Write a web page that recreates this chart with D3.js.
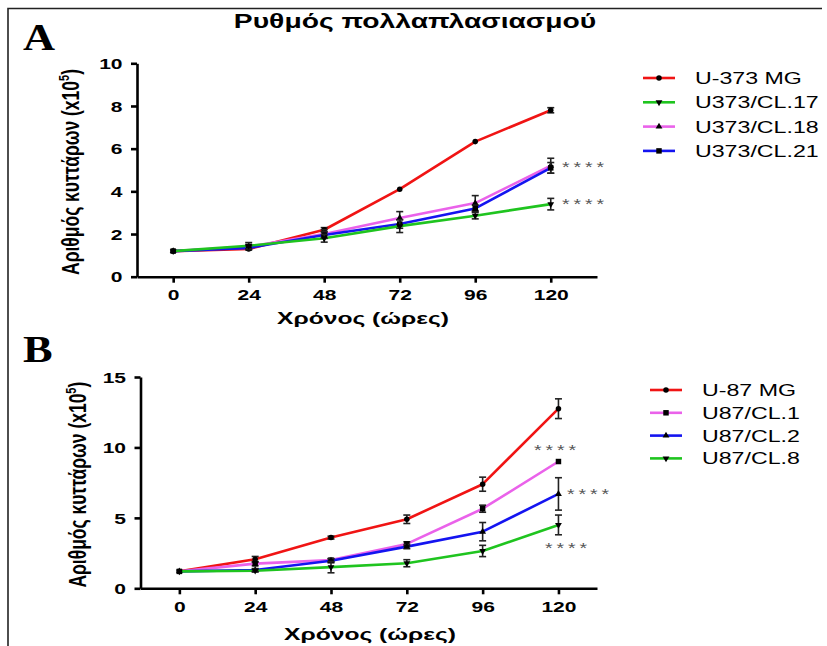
<!DOCTYPE html>
<html>
<head>
<meta charset="utf-8">
<script src="https://cdn.jsdelivr.net/npm/d3@7"></script>
<style>
  html, body { margin: 0; padding: 0; background: #fff; }
  svg { display: block; }
  text { font-family: "Liberation Sans", Arial, sans-serif; }
</style>
</head>
<body>
<svg id="chart" width="827" height="646"></svg>
<script>
// Sampling times (hours)
const hours = [0, 24, 48, 72, 96, 120];

// Panel A — U-373 MG and its clones (cell number x10^5)
const namesA = ["U-373 MG", "U373/CL.17", "U373/CL.18", "U373/CL.21"];
const u373MG   = [1.2, 1.3, 2.2, 4.1, 6.33, 7.8];
const u373MGe  = [0.05, 0.08, 0.1, 0.05, 0.08, 0.12];
const cl17     = [1.2, 1.45, 1.8, 2.37, 2.86, 3.4];
const cl17e    = [0.05, 0.15, 0.18, 0.3, 0.15, 0.27];
const cl18     = [1.2, 1.4, 2.0, 2.75, 3.45, 5.2];
const cl18e    = [0.05, 0.1, 0.2, 0.3, 0.35, 0.35];
const cl21     = [1.2, 1.35, 1.95, 2.47, 3.2, 5.1];
const cl21e    = [0.05, 0.1, 0.15, 0.2, 0.15, 0.25];
const ticksYA  = [0, 2, 4, 6, 8, 10];

// Panel B — U-87 MG and its clones (cell number x10^5)
const namesB = ["U-87 MG", "U87/CL.1", "U87/CL.2", "U87/CL.8"];
const u87MG   = [1.2, 2.06, 3.6, 4.9, 7.39, 12.75];
const u87MGe  = [0.05, 0.2, 0.1, 0.3, 0.5, 0.7];
const cl1     = [1.2, 1.75, 2.0, 3.15, 5.65, 9.0];
const cl1e    = [0.05, 0.15, 0.1, 0.15, 0.25, 0.05];
const cl2     = [1.2, 1.3, 1.96, 2.96, 4.02, 6.7];
const cl2e    = [0.05, 0.1, 0.15, 0.15, 0.65, 1.15];
const cl8     = [1.2, 1.25, 1.5, 1.78, 2.65, 4.5];
const cl8e    = [0.05, 0.1, 0.4, 0.25, 0.4, 0.7];
const ticksYB = [0, 5, 10, 15];

const stars = "****";

const RED = "#f01414", GREEN = "#1fc41f", PINK = "#ea62ea", BLUE = "#1414f0";
const SX = 1.45; // horizontal text stretch

const svg = d3.select("#chart");

// Frame
svg.append("path").attr("d", "M8,646 V8.5 H822")
  .attr("fill", "none").attr("stroke", "#222").attr("stroke-width", 1.6);

function label(x, y, str, opt = {}) {
  const t = svg.append("text")
    .attr("transform", `translate(${x},${y}) ${opt.rot ? "rotate(-90) scale(1," + (opt.sx || SX) + ")" : "scale(" + (opt.sx || SX) + ",1)"}`)
    .attr("text-anchor", opt.anchor || "start")
    .attr("font-size", opt.size || 16)
    .attr("font-weight", opt.weight || "normal")
    .attr("fill", opt.fill || "#000")
    .style("font-family", opt.family || null)
    .style("letter-spacing", opt.ls || null)
    .text(str);
  return t;
}

// Title
label(415, 28, "Ρυθμός πολλαπλασιασμού", { anchor: "middle", size: 19.5, weight: "bold" });

// Panel letters
label(23, 50, "A", { size: 37, weight: "bold", family: "'Liberation Serif', 'Times New Roman', serif", sx: 1.2 });
label(23, 362, "B", { size: 37, weight: "bold", family: "'Liberation Serif', 'Times New Roman', serif", sx: 1.2 });

const symbols = {
  circle: d3.symbolCircle, square: d3.symbolSquare,
  up: d3.symbolTriangle, down: d3.symbolTriangle
};

function marker(g, kind, x, y) {
  const size = kind === "circle" ? 24 : kind === "square" ? 30 : 20;
  g.append("path")
    .attr("d", d3.symbol().type(symbols[kind]).size(size)())
    .attr("transform", `translate(${x},${y})${kind === "down" ? " rotate(180)" : ""}`)
    .attr("fill", "#000");
}

function panel(cfg) {
  const x = d3.scaleLinear().domain(cfg.xDom).range(cfg.xRange);
  const y = d3.scaleLinear().domain(cfg.yDom).range(cfg.yRange);
  const g = svg.append("g");

  // y axis
  const ya = g.append("g").attr("transform", `translate(${cfg.xRange[0]},0)`)
    .call(d3.axisLeft(y).tickValues(cfg.yTicks).tickSize(6).tickSizeOuter(0).tickPadding(4));
  // x axis
  const xa = g.append("g").attr("transform", `translate(0,${cfg.yRange[0]})`)
    .call(d3.axisBottom(x).tickValues(hours).tickSize(6).tickSizeOuter(0).tickPadding(7));
  [ya, xa].forEach(a => {
    a.selectAll("path,line").attr("stroke", "#000").attr("stroke-width", 2.6);
    a.selectAll("text").attr("font-size", 14.5).attr("font-weight", "bold")
      .attr("fill", "#000").style("font-family", "'Liberation Sans', Arial, sans-serif");
  });
  ya.selectAll("text").attr("transform", `scale(${SX},1)`).attr("dy", "0.36em");
  xa.selectAll("text").attr("transform", `scale(${SX},1)`);

  // axis titles
  const yt = label(cfg.yTitleX, (cfg.yRange[0] + cfg.yRange[1]) / 2 + 2, "", { rot: true, anchor: "middle", size: 17.5, weight: "bold", sx: 1.4 });
  yt.append("tspan").text("Αριθμός κυττάρων (x10");
  yt.append("tspan").attr("font-size", 11).attr("dy", -7).text("5");
  yt.append("tspan").attr("dy", 7).text(")");
  label(cfg.xTitleX, cfg.xTitleY, "Χρόνος (ώρες)", { anchor: "middle", size: 17, weight: "bold" });

  const line = d3.line().x((d, i) => x(hours[i])).y(d => y(d)).curve(d3.curveLinear);

  cfg.series.forEach(s => {
    g.append("path").datum(s.values).attr("d", line)
      .attr("fill", "none").attr("stroke", s.color).attr("stroke-width", 2.6)
      .attr("stroke-linejoin", "round");
  });
  cfg.series.forEach(s => {
    s.values.forEach((v, i) => {
      const e = s.errors[i];
      const cx = x(hours[i]);
      if (e > 0.08) {
        g.append("line").attr("x1", cx).attr("x2", cx).attr("y1", y(v - e)).attr("y2", y(v + e))
          .attr("stroke", "#222").attr("stroke-width", 1.6);
        [v - e, v + e].forEach(w => g.append("line")
          .attr("x1", cx - 3.5).attr("x2", cx + 3.5).attr("y1", y(w)).attr("y2", y(w))
          .attr("stroke", "#222").attr("stroke-width", 1.6));
      }
      marker(g, s.mark, cx, y(v));
    });
  });

  // significance marks
  cfg.stars.forEach(st => label(st.x, st.y, stars, { size: 15, fill: "#555", sx: 1.3, ls: "3px" }));

  // legend
  cfg.legend.forEach((s, i) => {
    const ly = cfg.legY + i * cfg.legStep;
    g.append("line").attr("x1", cfg.legX).attr("x2", cfg.legX + 32).attr("y1", ly).attr("y2", ly)
      .attr("stroke", s.color).attr("stroke-width", 2.6);
    marker(g, s.mark, cfg.legX + 16, ly);
    label(cfg.legX + 52, ly + 6, s.name, { size: 16 });
  });
}

const seriesA = {
  mg:   { name: namesA[0], values: u373MG, errors: u373MGe, color: RED,   mark: "circle" },
  c17:  { name: namesA[1], values: cl17,   errors: cl17e,   color: GREEN, mark: "down" },
  c18:  { name: namesA[2], values: cl18,   errors: cl18e,   color: PINK,  mark: "up" },
  c21:  { name: namesA[3], values: cl21,   errors: cl21e,   color: BLUE,  mark: "square" }
};
panel({
  xDom: [-11.5, 134.7], xRange: [137, 597],
  yDom: [0, 10], yRange: [276.7, 63.3], yTicks: ticksYA,
  yTitleX: 79, xTitleX: 363, xTitleY: 324,
  series: [seriesA.mg, seriesA.c18, seriesA.c21, seriesA.c17],
  legend: [seriesA.mg, seriesA.c17, seriesA.c18, seriesA.c21],
  legX: 643, legY: 78, legStep: 24.3,
  stars: [{ x: 562, y: 172 }, { x: 562, y: 209 }]
});

const seriesB = {
  mg:  { name: namesB[0], values: u87MG, errors: u87MGe, color: RED,   mark: "circle" },
  c1:  { name: namesB[1], values: cl1,   errors: cl1e,   color: PINK,  mark: "square" },
  c2:  { name: namesB[2], values: cl2,   errors: cl2e,   color: BLUE,  mark: "up" },
  c8:  { name: namesB[3], values: cl8,   errors: cl8e,   color: GREEN, mark: "down" }
};
panel({
  xDom: [-12.3, 132.2], xRange: [140.5, 597],
  yDom: [0, 15], yRange: [588.3, 377], yTicks: ticksYB,
  yTitleX: 86, xTitleX: 370, xTitleY: 640,
  series: [seriesB.mg, seriesB.c1, seriesB.c2, seriesB.c8],
  legend: [seriesB.mg, seriesB.c1, seriesB.c2, seriesB.c8],
  legX: 650, legY: 390, legStep: 22.8,
  stars: [{ x: 534, y: 455 }, { x: 567, y: 499 }, { x: 545, y: 553 }]
});
</script>
</body>
</html>
